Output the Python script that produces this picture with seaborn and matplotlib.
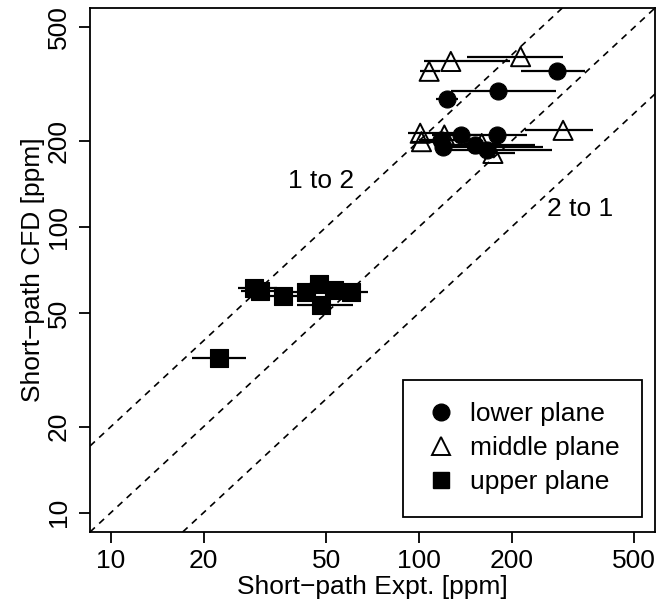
import numpy as np
import pandas as pd
import seaborn as sns
import matplotlib.pyplot as plt
from matplotlib.lines import Line2D

# Short-path values [ppm]: experiment (x, with range) vs CFD (y)
lower_expt = [282, 181, 123, 137, 180, 118, 120, 152, 166]
lower_cfd = [353, 300, 281, 210, 210, 201, 191, 193, 186]
lower_lo = [215, 127, 114, 117, 147, 100, 117, 115, 115]
lower_hi = [346, 278, 134, 158, 225, 141, 253, 238, 270]

middle_expt = [108, 127, 214, 101, 102, 121, 160, 174, 294]
middle_cfd = [351, 380, 395, 213, 199, 210, 196, 181, 218]
middle_lo = [101, 104, 143, 92, 95, 110, 140, 150, 221]
middle_hi = [117, 198, 294, 130, 112, 135, 185, 205, 367]

upper_expt = [29.1, 30.5, 36.2, 42.9, 47.4, 52.9, 60.4, 48.2, 22.5]
upper_cfd = [61.0, 59.8, 57.2, 59.0, 63.1, 60.3, 59.3, 53.4, 34.7]
upper_lo = [25.8, 26.5, 32.0, 39.0, 44.0, 46.0, 50.0, 40.1, 18.3]
upper_hi = [34.6, 35.5, 41.0, 55.0, 51.0, 58.0, 68.2, 61.0, 27.5]

plane_names = ["lower plane", "middle plane", "upper plane"]
ratio_lines = [2.0, 1.0, 0.5]
ratio_labels = ["1 to 2", "2 to 1"]
ticks = [10, 20, 50, 100, 200, 500]

frames = []
for name, ex, cf, lo, hi in [
    (plane_names[0], lower_expt, lower_cfd, lower_lo, lower_hi),
    (plane_names[1], middle_expt, middle_cfd, middle_lo, middle_hi),
    (plane_names[2], upper_expt, upper_cfd, upper_lo, upper_hi),
]:
    frames.append(pd.DataFrame({"plane": name, "expt": ex, "cfd": cf, "lo": lo, "hi": hi}))
df = pd.concat(frames, ignore_index=True)

sns.set_theme(style="white")
plt.rcParams["font.family"] = ["Liberation Sans", "DejaVu Sans"]
plt.rcParams["axes.linewidth"] = 1.3
plt.rcParams["text.color"] = "black"
plt.rcParams["axes.labelcolor"] = "black"
plt.rcParams["xtick.color"] = "black"
plt.rcParams["ytick.color"] = "black"

fig = plt.figure(figsize=(6.6, 6.1), dpi=100)
ax = fig.add_axes([90 / 660, 1 - 532 / 610, 565 / 660, 524 / 610])
ax.set_xscale("log")
ax.set_yscale("log")

pad = 0.04 * (np.log10(500) - 1)
lim = (10 ** (1 - pad), 10 ** (np.log10(500) + pad))
ax.set_xlim(lim)
ax.set_ylim(lim)

# reference ratio lines
for r in ratio_lines:
    ax.axline((10, 10 * r), (100, 100 * r), color="black", lw=1.2,
              linestyle=(0, (4, 3.5)), zorder=1)

# horizontal ranges of the experimental values
ax.hlines(df["cfd"], df["lo"], df["hi"], color="black", lw=1.6, zorder=2)

styles = {
    "lower plane": dict(marker="o", s=150, color="black", edgecolor="black", linewidth=0.8),
    "middle plane": dict(marker="^", s=190, facecolor="none", edgecolor="black", linewidth=1.4),
    "upper plane": dict(marker="s", s=150, color="black", edgecolor="black", linewidth=0.8),
}
for name in plane_names:
    sub = df[df["plane"] == name]
    sns.scatterplot(data=sub, x="expt", y="cfd", ax=ax, zorder=3, legend=False, **styles[name])

ax.text(48.3, 145, ratio_labels[0], fontsize=19, ha="center", va="center", color="black")
ax.text(333, 116, ratio_labels[1], fontsize=19, ha="center", va="center", color="black")

ax.set_xticks(ticks)
ax.set_yticks(ticks)
ax.set_xticklabels([str(t) for t in ticks])
ax.set_yticklabels([str(t) for t in ticks], rotation=90, va="center")
ax.minorticks_off()
ax.tick_params(axis="both", which="major", direction="out", length=8, width=1.3,
               labelsize=19, colors="black", bottom=True, left=True, top=False, right=False)
ax.tick_params(axis="x", pad=4)
ax.tick_params(axis="y", pad=6)
for sp in ax.spines.values():
    sp.set_color("black")
    sp.set_linewidth(1.3)

ax.set_xlabel("Short\u2212path Expt. [ppm]", fontsize=19, labelpad=2, color="black")
ax.set_ylabel("Short\u2212path CFD [ppm]", fontsize=19, labelpad=1, color="black")

handles = [
    Line2D([], [], linestyle="none", marker="o", markersize=12, color="black"),
    Line2D([], [], linestyle="none", marker="^", markersize=13, markerfacecolor="none",
           markeredgecolor="black", markeredgewidth=1.4),
    Line2D([], [], linestyle="none", marker="s", markersize=12, color="black"),
]
leg = ax.legend(handles, plane_names, loc="lower right", bbox_to_anchor=(0.977, 0.029),
                borderaxespad=0, fontsize=19, frameon=True, fancybox=False,
                edgecolor="black", framealpha=1, handletextpad=0.5, labelspacing=0.38,
                borderpad=0.85, handlelength=1.2)
leg.get_frame().set_linewidth(1.3)
for t in leg.get_texts():
    t.set_color("black")

fig.savefig("out.png", dpi=100)
